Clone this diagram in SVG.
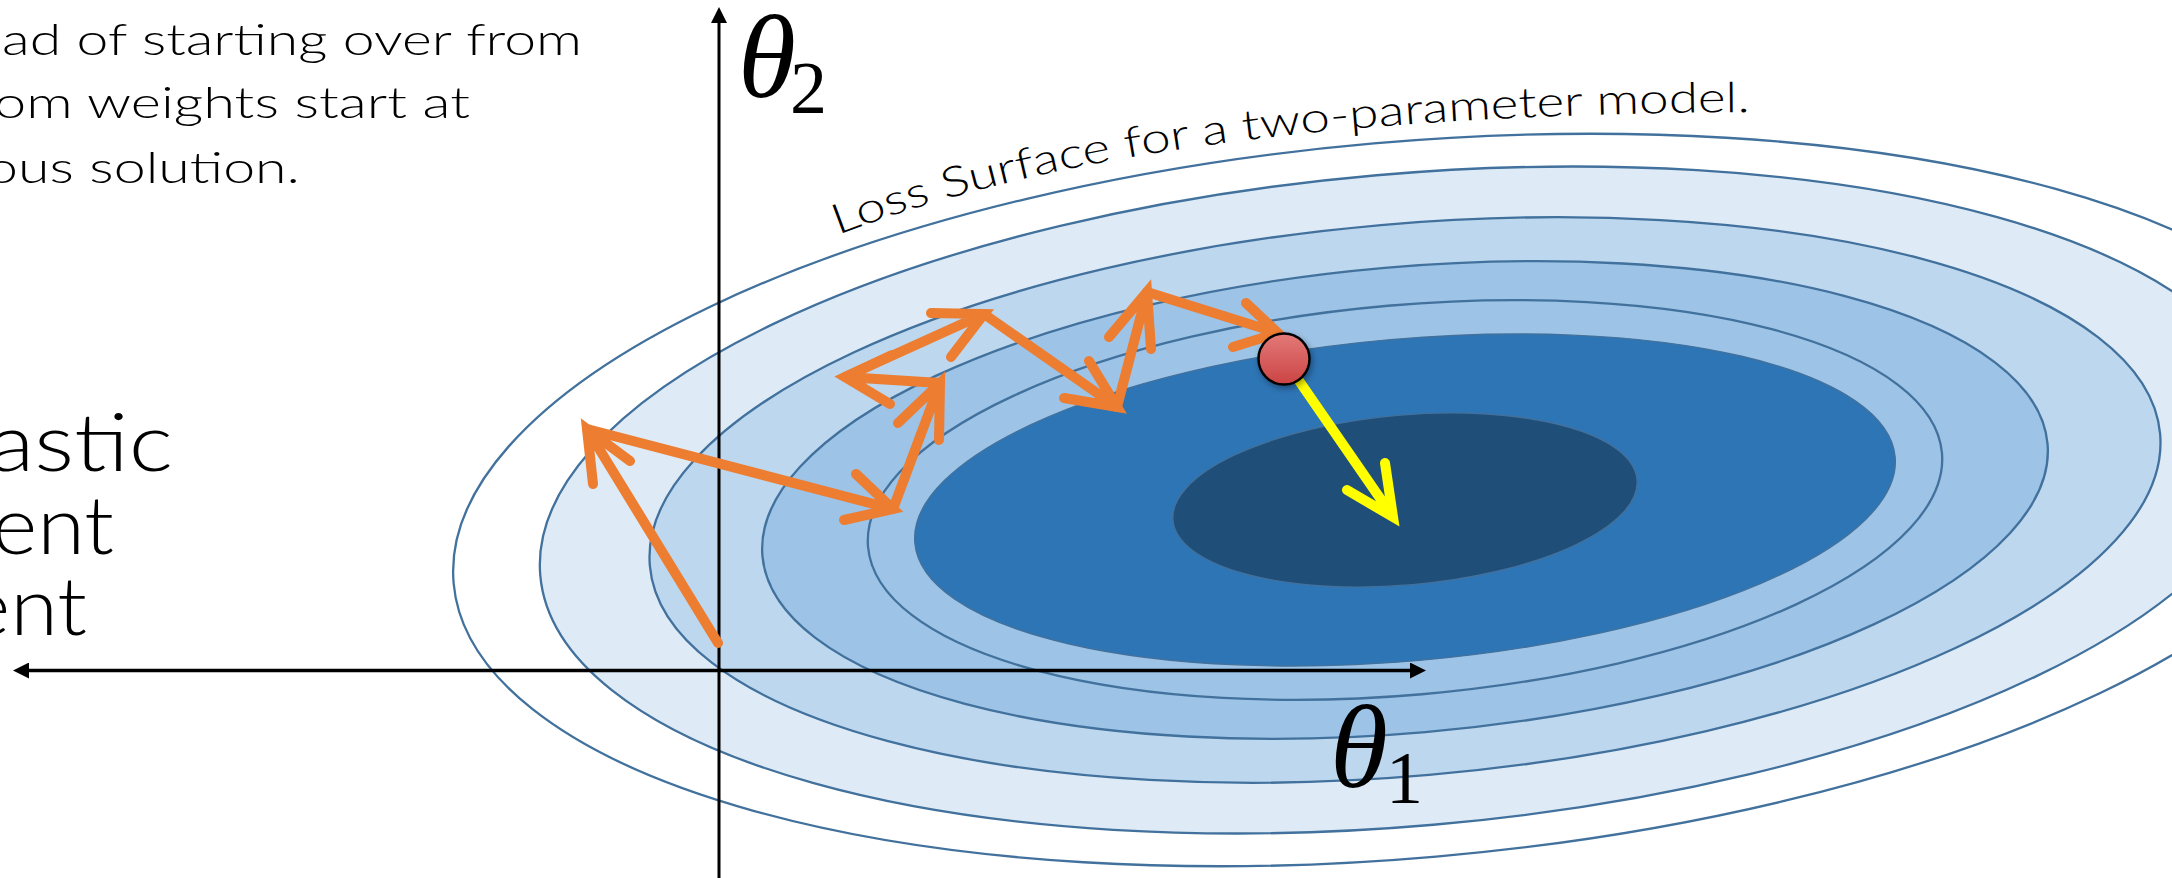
<svg xmlns="http://www.w3.org/2000/svg" width="2172" height="878" viewBox="0 0 2172 878">
<defs>
<style>
.contour{stroke:#41719c;stroke-width:2.3}
.thin{stroke:#41719c;stroke-width:1.4}
.ax{fill:none;stroke:#000;stroke-linecap:butt}
.orange{fill:none;stroke:#ed7d31;stroke-width:10;stroke-linecap:round;stroke-linejoin:miter;stroke-miterlimit:10}
.yellow{fill:none;stroke:#ffff00;stroke-width:10;stroke-linecap:round;stroke-linejoin:miter;stroke-miterlimit:10}
.body{font-family:Lato,"Liberation Sans",sans-serif;font-weight:300;fill:#000}
.math{font-family:"Liberation Serif","DejaVu Serif",serif;fill:#000}
</style>
<marker id="ah" viewBox="0 0 16 16" refX="8" refY="8" markerWidth="16" markerHeight="16" markerUnits="userSpaceOnUse" orient="auto-start-reverse">
<path d="M0,0 L16,8 L0,16 Z" fill="#000"/>
</marker>
<linearGradient id="ballGrad" x1="0" y1="0" x2="0" y2="1">
<stop offset="0" stop-color="#e27a78"/>
<stop offset="1" stop-color="#cc4444"/>
</linearGradient>
<filter id="shadow" x="-50%" y="-50%" width="200%" height="200%">
<feDropShadow dx="2" dy="3" stdDeviation="3" flood-color="#000" flood-opacity="0.35"/>
</filter>
<path id="lossArc" d="M 838,235 C 1060,150 1350,114 1760,112" fill="none"/>
</defs>
<rect width="2172" height="878" fill="#fff"/>

<g id="loss-surface" transform="translate(1405,500) rotate(-5)">
<ellipse class="contour" rx="955" ry="358" fill="#ffffff"/>
<ellipse class="contour" rx="868" ry="326" fill="#deebf7"/>
<ellipse class="contour" rx="758" ry="276" fill="#bdd7ee"/>
<ellipse class="contour" rx="645" ry="233" fill="#9dc3e6"/>
<ellipse class="contour" rx="539" ry="195" fill="#9dc3e6"/>
<ellipse class="thin" rx="492" ry="161" fill="#2e75b6"/>
<ellipse class="thin" rx="233" ry="85" fill="#1f4e79"/>
</g>

<g id="axes">
<line id="theta1-axis" class="ax" x1="21" y1="670.5" x2="1418" y2="670.5" stroke-width="3.5" marker-start="url(#ah)" marker-end="url(#ah)"/>
<line id="theta2-axis" class="ax" x1="719" y1="878" x2="719" y2="15" stroke-width="3" marker-end="url(#ah)"/>
</g>

<g id="label-theta2">
<text class="math" x="738" y="97" font-size="118" font-style="italic">θ</text>
<text class="math" x="790" y="113" font-size="74">2</text>
</g>
<g id="label-theta1">
<text class="math" x="1330" y="787" font-size="118" font-style="italic">θ</text>
<text class="math" x="1386" y="803" font-size="74">1</text>
</g>

<g id="label-loss">
<text class="body" font-size="42"><textPath href="#lossArc" textLength="925" lengthAdjust="spacingAndGlyphs">Loss Surface for a two-parameter model.</textPath></text>
</g>

<g id="note-text" class="body" font-size="44">
<text x="2" y="55" textLength="580" lengthAdjust="spacingAndGlyphs">ad of starting over from</text>
<text x="-6" y="118" textLength="476" lengthAdjust="spacingAndGlyphs">om weights start at</text>
<text x="-14" y="183" textLength="314" lengthAdjust="spacingAndGlyphs">ous solution.</text>
</g>

<g id="title-text" class="body" font-size="81">
<text x="-11" y="471" textLength="184" lengthAdjust="spacingAndGlyphs">astic</text>
<text x="-8" y="554" textLength="122" lengthAdjust="spacingAndGlyphs">ent</text>
<text x="-35" y="635" textLength="122" lengthAdjust="spacingAndGlyphs">ent</text>
</g>

<g id="connectors">
<path class="orange" d="M718,643 L587,429 M593,484 L587,429 L630,461"/>
<path class="orange" d="M587,429 L893,509 M856,474 L893,509 L844,520"/>
<path class="orange" d="M893,509 L940,383 M898,423 L940,383 L939,440"/>
<path class="orange" d="M940,383 L845,377 M890,404 L845,377 L892,355"/>
<path class="orange" d="M845,377 L984,314 M931,313 L984,314 L951,357"/>
<path class="orange" d="M984,314 L1117,407 M1064,398 L1117,407 L1089,361"/>
<path class="orange" d="M1117,407 L1147,292 M1109,337 L1147,292 L1151,349"/>
<path class="orange" d="M1147,292 L1278,333 M1246,303 L1278,333 L1233,347"/>
<path class="yellow" d="M1284,359 L1393,517 M1347,490 L1393,517 L1385,463"/>
</g>

<g id="current-weights">
<circle cx="1284" cy="359" r="25.5" fill="url(#ballGrad)" stroke="#000" stroke-width="2.5" filter="url(#shadow)"/>
</g>
</svg>
